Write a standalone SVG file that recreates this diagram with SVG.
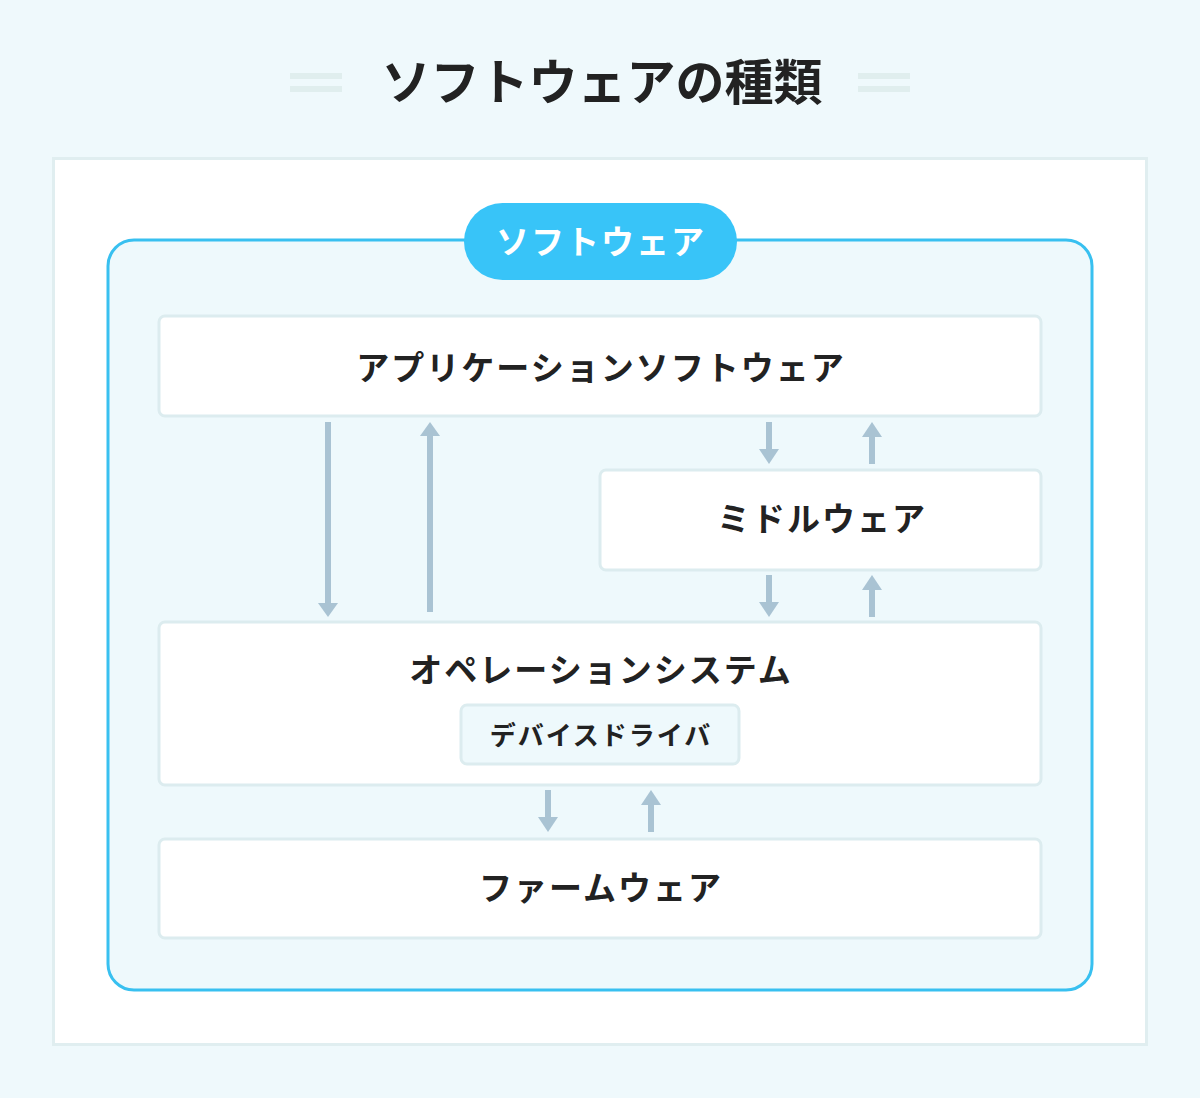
<svg xmlns="http://www.w3.org/2000/svg" width="1200" height="1098" viewBox="0 0 1200 1098">
<style>
.t{font-family:"Noto Sans CJK JP","Noto Sans",sans-serif;font-weight:700;fill:#222;text-anchor:middle}
.box{fill:#fff;stroke:#dcecef;stroke-width:3}
.deco{fill:#e0eeee}
.ar{fill:#a9c3d3}
</style>
<defs>
<g id="dn"><rect x="-3" y="0" width="6" height="28"/><path d="M-10,27 L10,27 L0,42 Z"/></g>
<g id="up"><rect x="-3" y="14" width="6" height="28"/><path d="M-10,15 L10,15 L0,0 Z"/></g>
</defs>
<rect width="1200" height="1098" fill="#eff9fc"/>
<g id="title">
<rect class="deco" x="290" y="73" width="52" height="6"/>
<rect class="deco" x="290" y="86" width="52" height="6"/>
<rect class="deco" x="858" y="73" width="52" height="6"/>
<rect class="deco" x="858" y="86" width="52" height="6"/>
<text class="t" x="602" y="100" font-size="49" letter-spacing="0">ソフトウェアの種類</text>
</g>
<g id="panel">
<rect x="53.5" y="158.5" width="1093" height="886" fill="#fff" stroke="#e0eef0" stroke-width="3"/>
</g>
<g id="software">
<rect x="108" y="240" width="984" height="750" rx="26" fill="#eef9fc" stroke="#38c0f0" stroke-width="3"/>
<rect x="464" y="203" width="273" height="77" rx="38.5" fill="#38c4f8"/>
<text class="t" x="601" y="254" font-size="33" letter-spacing="2" style="fill:#fff">ソフトウェア</text>
</g>
<g id="app">
<rect class="box" x="159" y="316" width="882" height="100" rx="6"/>
<text class="t" x="601" y="380" font-size="33" letter-spacing="2">アプリケーションソフトウェア</text>
</g>
<g id="middleware">
<rect class="box" x="600" y="470" width="441" height="100" rx="6"/>
<text class="t" x="822" y="531" font-size="33" letter-spacing="2">ミドルウェア</text>
</g>
<g id="os">
<rect class="box" x="159" y="622" width="882" height="163" rx="6"/>
<text class="t" x="601" y="682" font-size="33" letter-spacing="2">オペレーションシステム</text>
</g>
<g id="devicedriver">
<rect x="461" y="705" width="278" height="59" rx="6" fill="#eef9fc" stroke="#dcecef" stroke-width="3"/>
<text class="t" x="601" y="745" font-size="26" letter-spacing="2">デバイスドライバ</text>
</g>
<g id="firmware">
<rect class="box" x="159" y="839" width="882" height="99" rx="6"/>
<text class="t" x="601" y="900" font-size="33" letter-spacing="2">ファームウェア</text>
</g>
<g id="connectors" class="ar">
<rect x="325" y="422" width="6" height="182"/><path d="M318,603 L338,603 L328,617 Z"/>
<rect x="427" y="435" width="6" height="177"/><path d="M420,436 L440,436 L430,422 Z"/>
<use href="#dn" x="769" y="422"/>
<use href="#up" x="872" y="422"/>
<use href="#dn" x="769" y="575"/>
<use href="#up" x="872" y="575"/>
<use href="#dn" x="548" y="790"/>
<use href="#up" x="651" y="790"/>
</g>
</svg>
